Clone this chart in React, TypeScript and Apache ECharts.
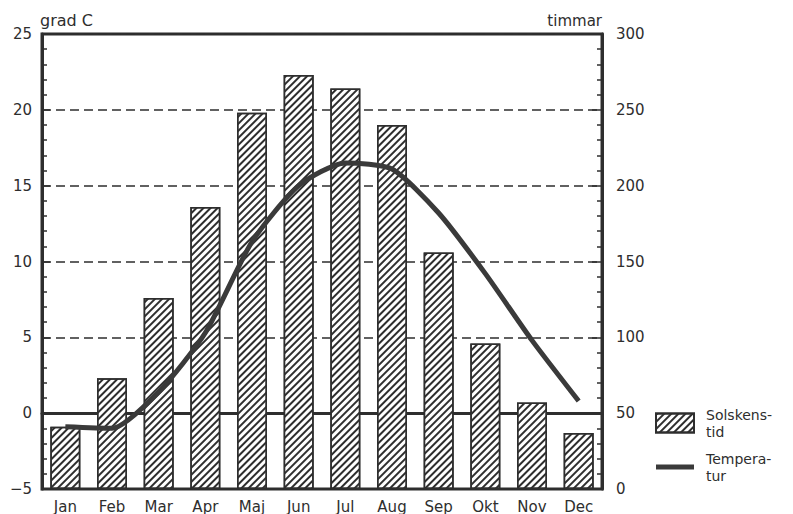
import React, { useEffect, useRef } from "react";
import * as echarts from "echarts";

const months = ["Jan", "Feb", "Mar", "Apr", "Maj", "Jun", "Jul", "Aug", "Sep", "Okt", "Nov", "Dec"];
const sunshineHours = [41, 73, 126, 186, 248, 273, 264, 240, 156, 96, 57, 37];
const temperature = [-0.9, -1.0, 1.4, 5.3, 11.3, 15.0, 16.5, 16.1, 13.2, 9.2, 4.8, 0.8];
const sunName = "Solskens-\ntid";
const tempName = "Tempera-\ntur";
const leftAxisName = "grad C";
const rightAxisName = "timmar";

const INK = "#2e2e2e";
const FONT = "DejaVu Sans";

export default function App() {
  const ref = useRef<HTMLDivElement>(null);
  useEffect(() => {
    if (!ref.current) return;
    const chart = echarts.init(ref.current, null, { renderer: "svg" });
    chart.setOption({
      animation: false,
      backgroundColor: "#ffffff",
      textStyle: { fontFamily: FONT, color: INK },
      grid: {
        left: 42,
        right: 191,
        top: 34,
        bottom: 24,
        show: true,
        borderColor: INK,
        borderWidth: 3,
        backgroundColor: "transparent",
      },
      legend: {
        orient: "vertical",
        left: 655,
        top: 406,
        padding: 0,
        itemWidth: 38,
        itemHeight: 19,
        itemGap: 10,
        selectedMode: false,
        textStyle: { fontFamily: FONT, fontSize: 14, color: INK, lineHeight: 17, padding: [0, 0, 0, 7] },
        data: [
          { name: sunName, icon: "rect" },
          { name: tempName, icon: "path://M0,0 H38 V5 H0 Z", itemStyle: { color: "#3a3a3a" } },
        ],
      },
      xAxis: {
        type: "category",
        data: months,
        axisLine: { show: true, lineStyle: { color: INK, width: 3 } },
        axisTick: { show: false },
        axisLabel: { color: INK, fontFamily: FONT, fontSize: 15, margin: 10 },
      },
      yAxis: [
        {
          type: "value",
          min: -5,
          max: 25,
          interval: 5,
          position: "left",
          name: leftAxisName,
          nameLocation: "end",
          nameGap: 6,
          nameTextStyle: { align: "left", fontFamily: FONT, fontSize: 16, color: INK, padding: [0, 0, 0, -2] },
          axisLine: { show: true, lineStyle: { color: INK, width: 3 } },
          axisTick: { show: true, inside: true, length: 8, lineStyle: { color: INK, width: 1.5 } },
          minorTick: { show: true, splitNumber: 5, length: 5, lineStyle: { color: INK, width: 1.5 } },
          axisLabel: {
            color: INK,
            fontFamily: FONT,
            fontSize: 15,
            margin: 10,
            padding: [6, 0, 0, 0],
            formatter: (v: number) => (v < 0 ? "\u2212" + Math.abs(v) : String(v)),
          },
          splitLine: { show: true, lineStyle: { color: INK, width: 1.5, type: [9, 5] } },
        },
        {
          type: "value",
          min: 0,
          max: 300,
          interval: 50,
          position: "right",
          name: rightAxisName,
          nameLocation: "end",
          nameGap: 6,
          nameTextStyle: { align: "right", fontFamily: FONT, fontSize: 15, color: INK },
          axisLine: { show: true, lineStyle: { color: INK, width: 3 } },
          axisTick: { show: true, inside: true, length: 10, lineStyle: { color: INK, width: 1.5 } },
          minorTick: { show: true, splitNumber: 5, length: 5, lineStyle: { color: INK, width: 1.5 } },
          axisLabel: { color: INK, fontFamily: FONT, fontSize: 15, margin: 14, padding: [6, 0, 0, 0] },
          splitLine: { show: false },
        },
      ],
      series: [
        {
          name: sunName,
          type: "bar",
          yAxisIndex: 1,
          data: sunshineHours,
          barWidth: 30,
          z: 2,
          itemStyle: {
            color: "#ffffff",
            borderColor: INK,
            borderWidth: 1.5,
            decal: {
              symbol: "rect",
              symbolSize: 1,
              color: INK,
              dashArrayX: [1, 0],
              dashArrayY: [1.4, 2.5],
              rotation: -Math.PI / 4,
            },
          },
        },
        {
          name: tempName,
          type: "line",
          yAxisIndex: 0,
          data: temperature,
          smooth: 0.22,
          showSymbol: false,
          symbol: "none",
          z: 3,
          lineStyle: { color: "#3a3a3a", width: 5 },
          itemStyle: { color: "#3a3a3a" },
          markLine: {
            z: 1,
            silent: true,
            symbol: "none",
            label: { show: false },
            lineStyle: { color: INK, width: 1, type: "solid" },
            data: [{ yAxis: 0 }],
          },
        },
      ],
    });
    return () => chart.dispose();
  }, []);
  return <div ref={ref} style={{ position: "fixed", left: 0, top: 0, width: 793, height: 514 }} />;
}
